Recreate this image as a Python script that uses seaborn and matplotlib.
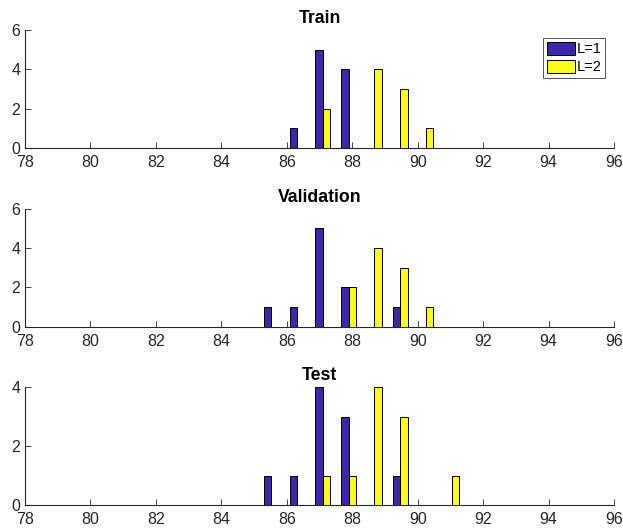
import numpy as np
import pandas as pd
import matplotlib
matplotlib.use("Agg")
import matplotlib.pyplot as plt
import seaborn as sns
from matplotlib.patches import Patch

# Bin centres (19 bins)
bin_centers = [80.00, 80.79, 81.58, 82.37, 83.16, 83.95, 84.74, 85.53, 86.31,
               87.10, 87.89, 88.68, 89.47, 90.26, 91.05, 91.84, 92.63, 93.42, 94.21]

train_L1 = [0, 0, 0, 0, 0, 0, 0, 0, 1, 5, 4, 0, 0, 0, 0, 0, 0, 0, 0]
train_L2 = [0, 0, 0, 0, 0, 0, 0, 0, 0, 2, 0, 4, 3, 1, 0, 0, 0, 0, 0]
val_L1 = [0, 0, 0, 0, 0, 0, 0, 1, 1, 5, 2, 0, 1, 0, 0, 0, 0, 0, 0]
val_L2 = [0, 0, 0, 0, 0, 0, 0, 0, 0, 0, 2, 4, 3, 1, 0, 0, 0, 0, 0]
test_L1 = [0, 0, 0, 0, 0, 0, 0, 1, 1, 4, 3, 0, 1, 0, 0, 0, 0, 0, 0]
test_L2 = [0, 0, 0, 0, 0, 0, 0, 0, 0, 1, 1, 4, 3, 0, 1, 0, 0, 0, 0]

titles = ["Train", "Validation", "Test"]
series_labels = ["L=1", "L=2"]
x_ticks = [78, 80, 82, 84, 86, 88, 90, 92, 94, 96]
y_ticks = [[0, 2, 4, 6], [0, 2, 4, 6], [0, 2, 4]]
y_max = [6, 6, 4]

colors = {"L=1": "#3e26a8", "L=2": "#fcfc14"}

sns.set_style("white")
plt.rcParams['font.family'] = ['Liberation Sans', 'DejaVu Sans']

fig = plt.figure(figsize=(6.23, 5.31), dpi=100)
left, width, height = 25 / 623, 589 / 623, 118 / 531
bottoms = [(531 - 148) / 531, (531 - 326.7) / 531, (531 - 505) / 531]

data_sets = [(train_L1, train_L2), (val_L1, val_L2), (test_L1, test_L2)]

for i, (s1, s2) in enumerate(data_sets):
    ax = fig.add_axes([left, bottoms[i], width, height])
    df = pd.DataFrame({
        "x": bin_centers * 2,
        "count": list(s1) + list(s2),
        "L": [series_labels[0]] * len(s1) + [series_labels[1]] * len(s2),
    })
    sns.barplot(data=df, x="x", y="count", hue="L", native_scale=True,
                palette=colors, hue_order=series_labels, dodge=True,
                saturation=1, width=0.57, edgecolor="black", linewidth=0.7,
                errorbar=None, legend=False, ax=ax)
    ax.set_xlim(78, 96)
    ax.set_ylim(0, y_max[i])
    ax.set_xticks(x_ticks)
    ax.set_yticks(y_ticks[i])
    ax.set_xlabel("")
    ax.set_ylabel("")
    for sp in ["top", "right"]:
        ax.spines[sp].set_visible(False)
    for sp in ["left", "bottom"]:
        ax.spines[sp].set_color("#262626")
        ax.spines[sp].set_linewidth(0.8)
        ax.spines[sp].set_zorder(0.5)
    ax.tick_params(direction="in", length=4, width=0.6, colors="#262626",
                   labelsize=11.5, labelcolor="#262626",
                   bottom=True, left=True)
    ax.tick_params(axis="x", pad=5)
    ax.tick_params(axis="y", pad=3.5)
    ax.set_title(titles[i], fontsize=12.7, fontweight="bold", pad=5,
                 color="black")
    if i == 0:
        handles = [Patch(facecolor=colors[l], edgecolor="black", linewidth=0.7)
                   for l in series_labels]
        leg = ax.legend(handles, series_labels, loc="upper right",
                        bbox_to_anchor=(0.985, 0.932), fontsize=10.5,
                        frameon=True, fancybox=False, edgecolor="#262626",
                        handlelength=1.92, handleheight=0.96, handletextpad=0.12,
                        borderpad=0.27, labelspacing=0.25, borderaxespad=0.0,
                        labelcolor="black")
        leg.get_frame().set_linewidth(0.7)

fig.savefig("out.png", dpi=100)
